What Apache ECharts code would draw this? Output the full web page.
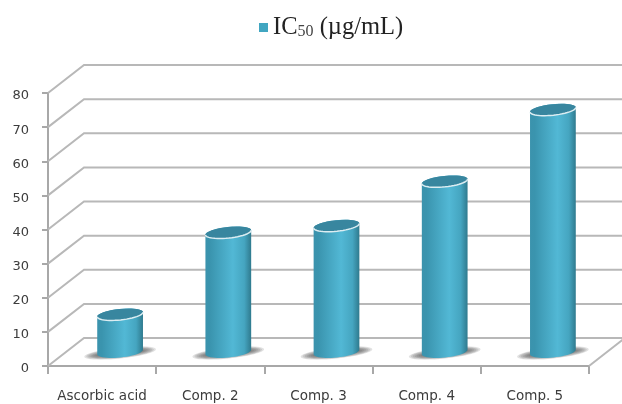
<!DOCTYPE html>
<html><head><meta charset="utf-8">
<style>html,body{margin:0;padding:0;background:#fff}#c{width:622px;height:404px}</style>
<script src="https://cdn.jsdelivr.net/npm/echarts@6/dist/echarts.min.js"></script>
</head><body><div id="c"></div>
<script>
const categories = ['Ascorbic acid', 'Comp. 2', 'Comp. 3', 'Comp. 4', 'Comp. 5'];
const ic50 = [11, 35, 37, 50, 71];
const yTicks = [0, 10, 20, 30, 40, 50, 60, 70, 80];
const seriesName = 'IC50 (µg/mL)';

const DX = 36, DY = 28, RX = 23, RY = 5.5, TH = -6 * Math.PI / 180;
const GRID = '#b8b8b8';
function ell(cx, cy, t) {
  const a = RX * Math.cos(t), b = RY * Math.sin(t);
  return [cx + a * Math.cos(TH) - b * Math.sin(TH), cy + a * Math.sin(TH) + b * Math.cos(TH)];
}
function renderWall(params, api) {
  const cs = params.coordSys;
  const y = api.coord([0, api.value(0)])[1];
  const x0 = cs.x, x1 = cs.x + cs.width;
  const kids = [{
    type: 'polyline',
    shape: { points: [[x0, y], [x0 + DX, y - DY], [x1 + DX, y - DY]] },
    style: { stroke: GRID, lineWidth: 2, fill: null }
  }];
  if (api.value(0) === 0) {
    kids.push({
      type: 'line',
      shape: { x1: x1, y1: y, x2: x1 + DX, y2: y - DY },
      style: { stroke: GRID, lineWidth: 2 }
    });
  }
  return { type: 'group', children: kids };
}
function renderBar(params, api) {
  const p = api.coord([api.value(0), api.value(1)]);
  const p0 = api.coord([api.value(0), 0]);
  const cx = p[0] + DX / 2, top = p[1] - DY / 2, base = p0[1] - DY / 2;
  const pts = [], rim = [];
  for (let i = 0; i <= 24; i++) pts.push(ell(cx, top, Math.PI + Math.PI * i / 24));
  for (let i = 0; i <= 24; i++) pts.push(ell(cx, base, Math.PI * i / 24));
  for (let i = 0; i <= 24; i++) rim.push(ell(cx, top, Math.PI * i / 24));
  const bodyFill = new echarts.graphic.LinearGradient(0, 0, 1, 0, [
    { offset: 0, color: '#3b93ad' }, { offset: 0.1, color: '#3a94ae' },
    { offset: 0.6, color: '#52b8d5' }, { offset: 0.85, color: '#45a5c0' },
    { offset: 1, color: '#2f7a8e' }
  ]);
  const shadow = [];
  for (let k = 0; k < 7; k++) {
    shadow.push({ type: 'ellipse', shape: { cx: 0, cy: 0, rx: 36 - k * 2, ry: 5.5 - k * 0.55 },
      x: cx, y: base + 1, rotation: -TH,
      style: { fill: 'rgba(85,85,85,0.17)' } });
  }
  return {
    type: 'group',
    children: shadow.concat([
      { type: 'polygon', shape: { points: pts }, style: { fill: bodyFill } },
      { type: 'ellipse', shape: { cx: 0, cy: 0, rx: RX, ry: RY }, x: cx, y: top, rotation: -TH,
        style: { fill: '#38869f' } },
      { type: 'polyline', shape: { points: rim }, style: { stroke: '#dcedf2', lineWidth: 1.5, fill: null } }
    ])
  };
}
const chart = echarts.init(document.getElementById('c'), null, { renderer: 'canvas' });
chart.setOption({
  animation: false,
  backgroundColor: '#fff',
  legend: {
    data: [seriesName], top: 10, left: 254, itemWidth: 9, itemHeight: 9, itemGap: 10, icon: 'rect',
    formatter: () => '{a|IC}{b|50}{a| (µg/mL)}',
    textStyle: { rich: {
      a: { fontFamily: 'Liberation Serif', fontSize: 24.5, color: '#222' },
      b: { fontFamily: 'Liberation Serif', fontSize: 16, color: '#444', verticalAlign: 'bottom', padding: [8, 0, 0, 0] }
    } }
  },
  grid: { left: 48, top: 93, width: 541, height: 273 },
  xAxis: {
    type: 'category', data: categories,
    axisLine: { lineStyle: { color: '#a8a8a8', width: 2 } },
    axisTick: { show: true, interval: 0, length: 8, lineStyle: { color: '#a8a8a8', width: 2 } },
    axisLabel: { interval: 0, color: '#3c3c3c', fontFamily: 'DejaVu Sans', fontSize: 13.5, margin: 23 }
  },
  yAxis: {
    type: 'value', min: 0, max: 80, interval: 10,
    splitLine: { show: false },
    axisLine: { show: true, lineStyle: { color: '#a8a8a8', width: 2 } },
    axisTick: { show: true, length: 6, lineStyle: { color: '#a8a8a8', width: 2 } },
    axisLabel: { color: '#3c3c3c', fontFamily: 'DejaVu Sans', fontSize: 13, margin: 19, verticalAlign: 'top', lineHeight: 6 }
  },
  series: [
    { type: 'custom', name: 'walls', z: 1, silent: true, clip: false,
      data: yTicks.map(v => [v]), encode: { y: 0 }, renderItem: renderWall },
    { type: 'custom', name: seriesName, z: 2, clip: false, itemStyle: { color: '#41a6c1' },
      data: ic50.map((v, i) => [i, v]), encode: { x: 0, y: 1 }, renderItem: renderBar }
  ]
});
</script></body></html>
